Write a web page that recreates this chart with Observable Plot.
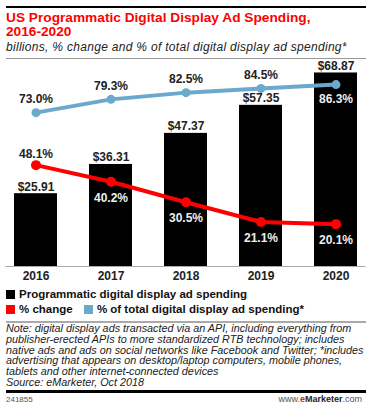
<!DOCTYPE html>
<html>
<head>
<meta charset="utf-8">
<script src="https://cdn.jsdelivr.net/npm/d3@7"></script>
<script src="https://cdn.jsdelivr.net/npm/@observablehq/plot@0.6"></script>
<style>
  html, body { margin: 0; padding: 0; background: #fff; }
  #page { position: relative; width: 373px; height: 409px; font-family: "Liberation Sans", Arial, sans-serif; overflow: hidden; }
  .abs { position: absolute; }
  .rule { position: absolute; left: 6px; width: 360px; }
  #title { left: 6px; top: 11px; color: #ff0000; font-weight: bold; font-size: 13.7px; line-height: 14px; white-space: nowrap; }
  #subtitle { left: 6px; top: 41px; color: #222; font-style: italic; font-size: 12px; letter-spacing: 0.3px; line-height: 13px; white-space: nowrap; }
  #chart { left: 0; top: 60px; }
  .leg { position: absolute; left: 6px; font-weight: bold; font-size: 11.5px; line-height: 14px; color: #111; white-space: nowrap; }
  .sw { display: inline-block; width: 9px; height: 9px; vertical-align: -1px; margin-right: 4px; }
  #note { left: 6px; top: 323px; font-style: italic; font-size: 10.8px; line-height: 10.8px; color: #222; white-space: nowrap; }
  #foot-l { left: 6px; top: 395px; font-size: 8px; color: #555; }
  #foot-r { right: 11px; top: 394px; font-size: 9px; color: #555; }
</style>
</head>
<body>
<div id="page">
  <div class="rule" style="top:6px;height:2px;background:#000;"></div>
  <div id="title" class="abs">US Programmatic Digital Display Ad Spending,<br>2016-2020</div>
  <div id="subtitle" class="abs">billions, % change and % of total digital display ad spending*</div>
  <div class="rule" style="top:58px;height:1px;background:#999;"></div>
  <div id="chart" class="abs"></div>
  <div class="leg" style="top:287px;"><span class="sw" style="background:#000"></span>Programmatic digital display ad spending</div>
  <div class="leg" style="top:302px;"><span class="sw" style="background:#ff0000"></span>% change <span class="sw" style="background:#6aa8cc;margin-left:8px"></span>% of total digital display ad spending*</div>
  <div class="rule" style="top:321px;height:2px;background:#aaa;"></div>
  <div id="note" class="abs">Note: digital display ads transacted via an API, including everything from<br>publisher-erected APIs to more standardized RTB technology; includes<br>native ads and ads on social networks like Facebook and Twitter; *includes<br>advertising that appears on desktop/laptop computers, mobile phones,<br>tablets and other internet-connected devices<br>Source: eMarketer, Oct 2018</div>
  <div class="rule" style="top:390px;height:3px;background:#000;"></div>
  <div id="foot-l" class="abs">241855</div>
  <div id="foot-r" class="abs">www.<b style="color:#ff0000">e</b><b style="color:#222">Marketer</b>.com</div>
</div>
<script>
const years = ["2016", "2017", "2018", "2019", "2020"];
const spending = [25.91, 36.31, 47.37, 57.35, 68.87];
const pctChange = [48.1, 40.2, 30.5, 21.1, 20.1];
const pctTotal = [73.0, 79.3, 82.5, 84.5, 86.3];

const K = 0.75; // percent -> secondary axis mapped onto the dollar scale
const data = years.map((year, i) => ({
  year, spend: spending[i], chg: pctChange[i] * K, tot: pctTotal[i] * K,
  chgLabel: pctChange[i].toFixed(1) + "%", totLabel: pctTotal[i].toFixed(1) + "%", i
}));

const BLUE = "#6aa8cc", RED = "#ff0000";
const lab = { fontSize: 12, fontWeight: "bold", fontFamily: "Liberation Sans, Arial, sans-serif" };

const chart = Plot.plot({
  width: 373,
  height: 230,
  marginTop: 10,
  marginBottom: 24,
  marginLeft: 5.4,
  marginRight: 7.4,
  x: { type: "band", domain: years, paddingInner: 0.431, paddingOuter: 0.1, label: null },
  y: { domain: [0, 69.75], axis: null },
  style: { fontFamily: "Liberation Sans, Arial, sans-serif", overflow: "visible" },
  marks: [
    Plot.barY(data, { x: "year", y: "spend", fill: "#000" }),
    Plot.ruleY([0], { stroke: "#aaa", strokeWidth: 1 }),
    Plot.text(data, { x: "year", y: "spend", text: d => "$" + d.spend.toFixed(2), dy: -7, fill: "#222", ...lab }),
    Plot.line(data, { x: "year", y: "tot", stroke: BLUE, strokeWidth: 4 }),
    Plot.dot(data, { x: "year", y: "tot", r: 4.5, fill: BLUE }),
    Plot.line(data, { x: "year", y: "chg", stroke: RED, strokeWidth: 4 }),
    Plot.dot(data, { x: "year", y: "chg", r: 5, fill: RED }),
    Plot.text(data, { filter: d => d.i < 4, x: "year", y: "tot", text: "totLabel", dy: -13, fill: "#222", ...lab }),
    Plot.text(data, { filter: d => d.i === 4, x: "year", y: "tot", text: "totLabel", dy: 15, fill: "#eee", ...lab }),
    Plot.text(data, { filter: d => d.i === 0, x: "year", y: "chg", text: "chgLabel", dy: -11, fill: "#222", ...lab }),
    Plot.text(data, { filter: d => d.i > 0, x: "year", y: "chg", text: "chgLabel", dy: 16, fill: "#eee", ...lab }),
    Plot.axisX({ tickSize: 0, tickPadding: 5, fontSize: 12, fontWeight: "bold", fill: "#222", label: null })
  ]
});
document.getElementById("chart").appendChild(chart);
</script>
</body>
</html>
